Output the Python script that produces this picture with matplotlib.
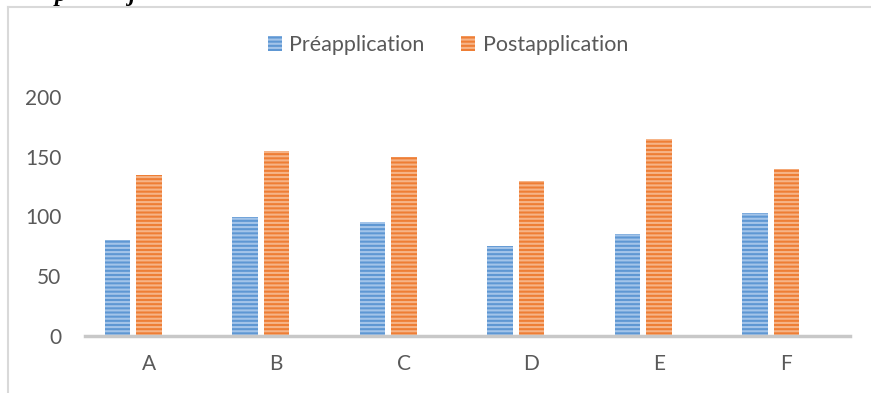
import matplotlib
matplotlib.use("Agg")
import matplotlib.pyplot as plt
from matplotlib.lines import Line2D
import numpy as np

categories = ["A", "B", "C", "D", "E", "F"]
pre_values = [80, 100, 95, 75, 85, 103]
post_values = [135, 155, 150, 130, 165, 140]
series_names = ["Préapplication", "Postapplication"]
yticks = [0, 50, 100, 150, 200]

W, H = 871, 393
fig = plt.figure(figsize=(W / 100, H / 100), dpi=100)
plt.rcParams["hatch.linewidth"] = 1.5

font = ["Lato", "DejaVu Sans"]
gray = "#595959"

ax = fig.add_axes([85 / W, (H - 336) / H, (850 - 85) / W, (336 - 97) / H])
x = np.arange(len(categories))
w = 0.2
blue_face, blue_hatch = "#5E97D3", "#A3C4E9"
orange_face, orange_hatch = "#EE7E35", "#F6B487"

b1 = ax.bar(x - 0.245, pre_values, w, color=blue_face, edgecolor=blue_hatch,
            hatch="----", linewidth=0, label=series_names[0])
b2 = ax.bar(x, post_values, w, color=orange_face, edgecolor=orange_hatch,
            hatch="----", linewidth=0, label=series_names[1])

ax.set_xlim(-0.5, len(categories) - 0.5)
ax.set_ylim(0, 200)
ax.set_yticks(yticks)
ax.set_yticklabels([str(v) for v in yticks])
ax.set_xticks(x)
ax.set_xticklabels(categories)
for s in ["top", "right", "left"]:
    ax.spines[s].set_visible(False)
ax.spines["bottom"].set_color("#C8C8C8")
ax.spines["bottom"].set_linewidth(2.5)
ax.tick_params(axis="both", length=0, colors=gray, labelsize=15)
ax.tick_params(axis="y", pad=17)
ax.tick_params(axis="x", pad=13)
for lab in ax.get_xticklabels() + ax.get_yticklabels():
    lab.set_fontfamily(font)

leg = fig.legend(handles=[b1, b2], labels=series_names, loc="center",
                 bbox_to_anchor=(448 / W, 1 - 45 / H), ncol=2, frameon=False,
                 handlelength=0.65, handleheight=0.65, handletextpad=0.35,
                 columnspacing=1.7, prop={"family": font, "size": 15.5})
for t in leg.get_texts():
    t.set_color(gray)

# chart border (top and left visible)
fig.add_artist(Line2D([8 / W, 1], [1 - 7 / H, 1 - 7 / H], transform=fig.transFigure,
                      color="#D9D9D9", linewidth=1.5))
fig.add_artist(Line2D([8 / W, 8 / W], [0, 1 - 7 / H], transform=fig.transFigure,
                      color="#D9D9D9", linewidth=1.5))

# cropped heading text above the chart (cut off in the reference as well)
fig.text(55 / W, 1 - 0.5 / H, "p", fontsize=17, family="Liberation Serif",
         style="italic", weight="bold", va="baseline", color="black")
fig.text(128 / W, 1 - 0.5 / H, "j", fontsize=17, family="Liberation Serif",
         style="italic", weight="bold", va="baseline", color="black")

fig.savefig("out.png", dpi=100)
